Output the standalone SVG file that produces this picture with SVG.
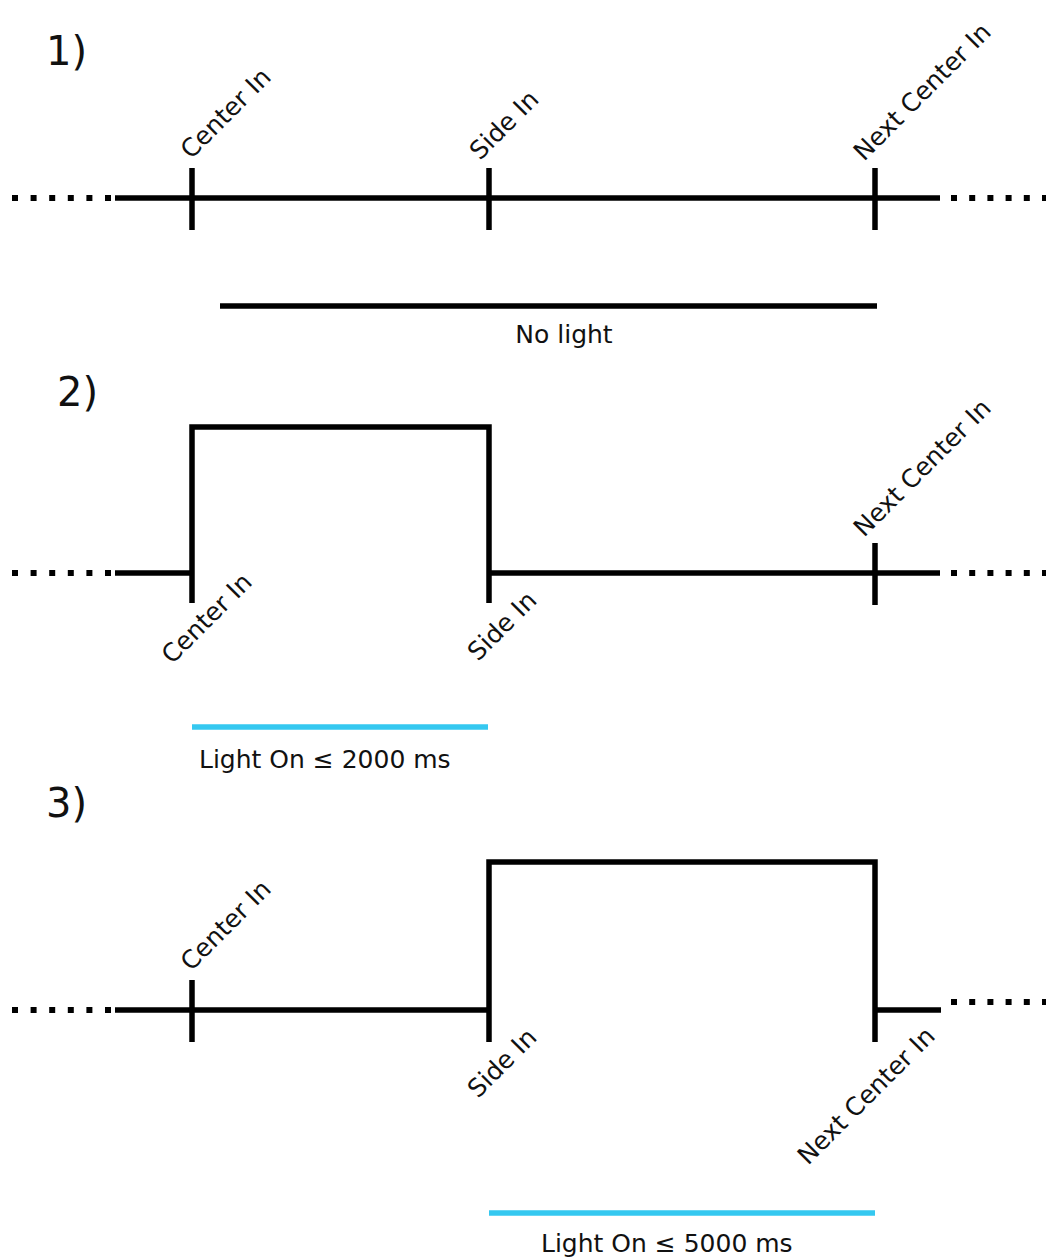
<svg xmlns="http://www.w3.org/2000/svg" width="1046" height="1257" viewBox="0 0 1046 1257">
<style>
.ln{stroke:#000;stroke-width:5.5;fill:none;stroke-linecap:butt;stroke-linejoin:miter}
.dl{stroke:#000;stroke-width:6;fill:none;stroke-dasharray:6 12.6}
.dr{stroke:#000;stroke-width:6;fill:none;stroke-dasharray:6 12.2}
.bl{stroke:#35C8F0;stroke-width:5.5;fill:none}
.bar{stroke:#000;stroke-width:5.5;fill:none}
text{font-family:"DejaVu Sans",Verdana,sans-serif;font-size:25px;fill:#111}
.hd{font-size:40px}
</style>
<rect width="1046" height="1257" fill="#fff"/>

<g id="panel1">
  <text class="hd" x="46" y="65">1)</text>
  <g id="connectors1">
    <line class="dl" x1="12" y1="198" x2="112" y2="198"/>
    <line class="ln" x1="115" y1="198" x2="940" y2="198"/>
    <line class="dr" x1="951" y1="198" x2="1046" y2="198"/>
  </g>
  <g id="p1-center"><line class="ln" x1="192" y1="168" x2="192" y2="230"/><text transform="translate(191,160) rotate(-45)">Center In</text></g>
  <g id="p1-side"><line class="ln" x1="489" y1="168" x2="489" y2="230"/><text transform="translate(480,161) rotate(-45)">Side In</text></g>
  <g id="p1-next"><line class="ln" x1="875" y1="168" x2="875" y2="230"/><text transform="translate(864,162) rotate(-45)">Next Center In</text></g>
  <g id="p1-light"><line class="bar" x1="220" y1="306" x2="877" y2="306"/><text x="564" y="343" text-anchor="middle">No light</text></g>
</g>

<g id="panel2">
  <text class="hd" x="57" y="406">2)</text>
  <g id="connectors2">
    <line class="dl" x1="12" y1="573" x2="112" y2="573"/>
    <path class="ln" d="M115,573 H192 M192,603 V427 H489 V603 M489,573 H940"/>
    <line class="dr" x1="951" y1="573" x2="1046" y2="573"/>
  </g>
  <g id="p2-center"><text transform="translate(172,665) rotate(-45)">Center In</text></g>
  <g id="p2-side"><text transform="translate(478,662) rotate(-45)">Side In</text></g>
  <g id="p2-next"><line class="ln" x1="875" y1="543" x2="875" y2="605"/><text transform="translate(864,538) rotate(-45)">Next Center In</text></g>
  <g id="p2-light"><line class="bl" x1="192" y1="727" x2="488" y2="727"/><text x="199" y="768">Light On ≤ 2000 ms</text></g>
</g>

<g id="panel3">
  <text class="hd" x="46" y="817">3)</text>
  <g id="connectors3">
    <line class="dl" x1="12" y1="1010" x2="112" y2="1010"/>
    <path class="ln" d="M115,1010 H489 M489,1042 V862 H875 V1042 M875,1010 H941"/>
    <line class="dr" x1="951" y1="1002" x2="1046" y2="1002"/>
  </g>
  <g id="p3-center"><line class="ln" x1="192" y1="980" x2="192" y2="1042"/><text transform="translate(191,972) rotate(-45)">Center In</text></g>
  <g id="p3-side"><text transform="translate(478,1099) rotate(-45)">Side In</text></g>
  <g id="p3-next"><text transform="translate(808,1166) rotate(-45)">Next Center In</text></g>
  <g id="p3-light"><line class="bl" x1="489" y1="1213" x2="875" y2="1213"/><text x="541" y="1252">Light On ≤ 5000 ms</text></g>
</g>
</svg>
